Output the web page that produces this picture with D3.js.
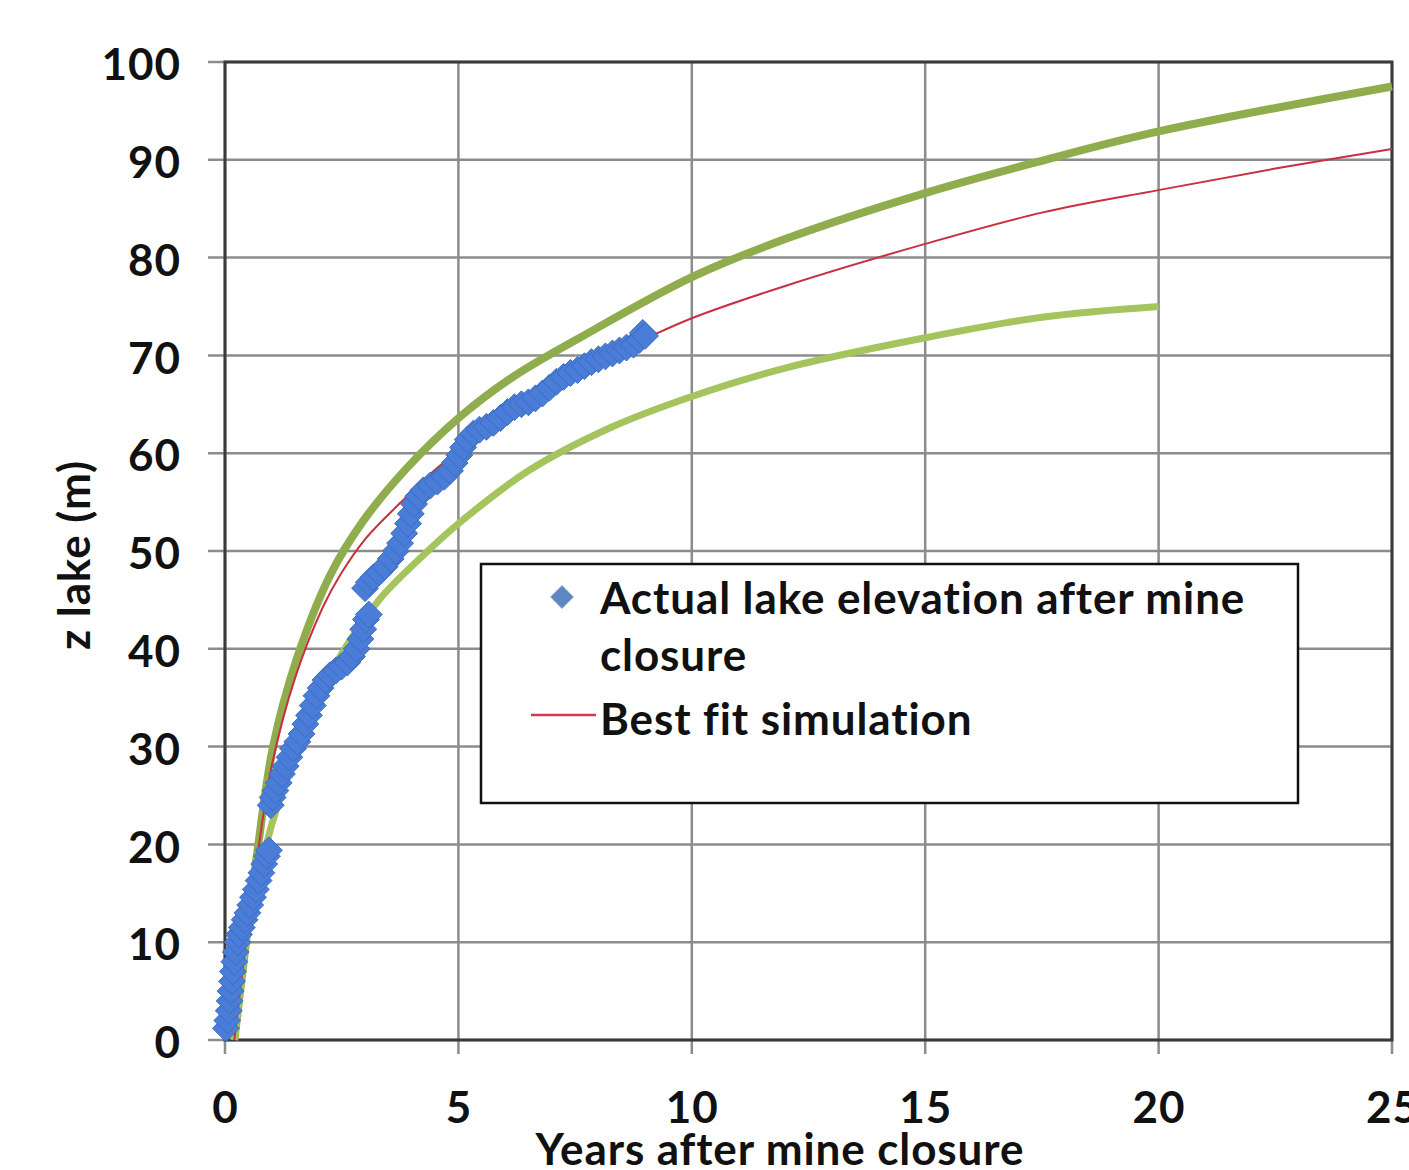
<!DOCTYPE html>
<html>
<head>
<meta charset="utf-8">
<script src="https://cdn.jsdelivr.net/npm/d3@7"></script>
<style>
  body { margin: 0; background: #fff; }
  svg { display: block; font-family: Lato, "Open Sans", sans-serif; font-weight: bold; }
</style>
</head>
<body>
<div id="chart"></div>
<script>
// observed lake level (years after closure, m)
const obsYears = [0.02,0.05,0.08,0.1,0.12,0.15,0.17,0.2,0.23,0.27,0.3,0.36,0.42,0.48,0.54,0.6,0.66,0.72,0.78,0.84,0.9,0.94,
  0.98,1.02,1.08,1.15,1.22,1.3,1.38,1.46,1.55,1.64,1.72,1.8,1.88,1.96,2.05,2.15,2.25,2.38,2.5,2.62,2.72,2.82,2.9,2.96,3.02,3.08,
  3.0,3.08,3.18,3.3,3.42,3.55,3.66,3.75,3.84,3.92,3.98,4.05,4.14,4.25,4.4,4.55,4.7,4.82,4.92,5.02,5.1,5.2,5.32,5.45,5.6,5.75,
  5.9,6.05,6.2,6.35,6.5,6.65,6.8,6.95,7.1,7.25,7.4,7.55,7.7,7.85,8.0,8.15,8.3,8.45,8.6,8.75,8.88,8.95,9.0];
const obsLevel = [1.2,2,3,4,5,6,7,8,9,10,10.8,11.5,12.3,13,13.8,14.6,15.4,16.3,17.1,18,18.8,19.4,
  24,24.8,25.5,26.3,27.2,28,28.9,29.8,30.5,31.3,32.3,33.2,34.2,35.2,36,36.8,37.3,37.8,38.2,38.6,39.2,40,41,42,43,43.5,
  46.2,46.8,47.3,47.8,48.4,49.2,50,50.8,51.8,52.8,53.8,54.8,55.6,56.2,56.7,57.1,57.6,58.2,59,59.8,60.6,61.4,62,62.4,62.7,63.1,
  63.6,64.2,64.7,65,65.2,65.6,66.1,66.7,67.3,67.8,68.2,68.5,68.9,69.3,69.6,69.9,70.2,70.5,70.8,71.1,71.6,72.3,72];

// best fit simulation
const fitYears = [0.2,0.45,0.7,1,1.5,2.1,2.5,3,3.75,4.5,5.5,6.5,7.5,8.5,9,10,12,15,17.5,20,22.5,25];
const fitLevel = [0,10,19,28,37,44.3,47.8,51.2,54.9,58.3,62,65.3,68.2,70.6,71.7,73.8,77.1,81.4,84.6,86.9,89.1,91.1];

// upper and lower envelope curves
const upperYears = [0.2,0.45,0.7,1.03,1.54,2.25,2.95,3.9,5.03,6.17,7.6,10,12,15,17.5,20,25];
const upperLevel = [0,10,19.5,30,39,47.5,53,58.5,63.7,67.8,71.8,78.0,81.9,86.6,89.9,92.9,97.5];
const lowerYears = [0.2,0.45,0.75,1.0,1.5,2,2.5,3.3,4.3,5,6.5,8.3,10,12,15,17.5,20];
const lowerLevel = [0,10,17,22,29,34.8,39.5,45,49.8,52.8,58.2,62.7,65.8,68.7,71.8,73.9,75];

const xTicks = [0,5,10,15,20,25];
const yTicks = [0,10,20,30,40,50,60,70,80,90,100];

const legendItems = ["Actual lake elevation after mine", "closure", "Best fit simulation"];

const W = 1409, H = 1170;
const plotLeft = 225, plotRight = 1392, plotTop = 62, plotBottom = 1040;

const x = d3.scaleLinear().domain([0, 25]).range([plotLeft, plotRight]);
const y = d3.scaleLinear().domain([0, 100]).range([plotBottom, plotTop]);

const svg = d3.select("#chart").append("svg")
  .attr("width", W)
  .attr("height", H);

// grid
svg.append("g").selectAll("line")
  .data(yTicks)
  .enter().append("line")
  .attr("x1", plotLeft - 17).attr("x2", plotRight)
  .attr("y1", d => y(d)).attr("y2", d => y(d))
  .attr("stroke", "#8c8c8c").attr("stroke-width", 2.5);

svg.append("g").selectAll("line")
  .data(xTicks)
  .enter().append("line")
  .attr("x1", d => x(d)).attr("x2", d => x(d))
  .attr("y1", plotTop).attr("y2", plotBottom + 14)
  .attr("stroke", "#8c8c8c").attr("stroke-width", 2.5);

// plot frame
svg.append("rect")
  .attr("x", plotLeft).attr("y", plotTop)
  .attr("width", plotRight - plotLeft).attr("height", plotBottom - plotTop)
  .attr("fill", "none").attr("stroke", "#3a3a3a").attr("stroke-width", 3);

// axes labels
const yAxis = svg.append("g")
  .attr("transform", "translate(" + (plotLeft - 44) + ",0)")
  .call(d3.axisLeft(y).tickValues(yTicks).tickSize(0).tickPadding(0));
yAxis.select(".domain").remove();
yAxis.selectAll("text").attr("font-size", 44).attr("font-family", "Lato").attr("font-weight", "bold")
  .attr("letter-spacing", 1).attr("fill", "#111").attr("dy", "0.4em");

const xAxis = svg.append("g")
  .attr("transform", "translate(0," + plotBottom + ")")
  .call(d3.axisBottom(x).tickValues(xTicks).tickSize(0).tickPadding(0));
xAxis.select(".domain").remove();
xAxis.selectAll("text").attr("font-size", 44).attr("font-family", "Lato").attr("font-weight", "bold")
  .attr("letter-spacing", 1).attr("fill", "#111").attr("y", 83).attr("dy", 0);

svg.append("text")
  .attr("x", 780).attr("y", 1165)
  .attr("text-anchor", "middle")
  .attr("font-size", 44).attr("letter-spacing", 0.9).attr("fill", "#111")
  .text("Years after mine closure");

svg.append("text")
  .attr("transform", "translate(90,555) rotate(-90)")
  .attr("text-anchor", "middle")
  .attr("font-size", 44).attr("letter-spacing", 0.9).attr("fill", "#111")
  .text("z lake (m)");

// curves
const line = d3.line()
  .x(d => x(d[0]))
  .y(d => y(d[1]))
  .curve(d3.curveCatmullRom.alpha(0.5));

svg.append("path")
  .datum(d3.zip(upperYears, upperLevel))
  .attr("d", line)
  .attr("fill", "none").attr("stroke", "#90ad4e").attr("stroke-width", 8);

svg.append("path")
  .datum(d3.zip(lowerYears, lowerLevel))
  .attr("d", line)
  .attr("fill", "none").attr("stroke", "#a6c45e").attr("stroke-width", 7);

svg.append("path")
  .datum(d3.zip(fitYears, fitLevel))
  .attr("d", line)
  .attr("fill", "none").attr("stroke", "#c8303f").attr("stroke-width", 2);

// observations
const diamond = d3.symbol().type(d3.symbolDiamond2).size(460);
svg.append("g").selectAll("path")
  .data(d3.zip(obsYears, obsLevel))
  .enter().append("path")
  .attr("d", diamond)
  .attr("transform", d => "translate(" + x(d[0]) + "," + y(d[1]) + ")")
  .attr("fill", "#4a7dd7")
  .attr("stroke", "#3d6cc0")
  .attr("stroke-width", 1);

// legend
const lg = svg.append("g");
lg.append("rect")
  .attr("x", 481).attr("y", 564)
  .attr("width", 817).attr("height", 239)
  .attr("fill", "#fff").attr("stroke", "#111").attr("stroke-width", 2.5);

lg.append("path")
  .attr("d", d3.symbol().type(d3.symbolDiamond2).size(330))
  .attr("transform", "translate(562,597)")
  .attr("fill", "#5d86c3").attr("stroke", "#8aa0c0").attr("stroke-width", 1);

lg.append("line")
  .attr("x1", 531).attr("x2", 596)
  .attr("y1", 715).attr("y2", 715)
  .attr("stroke", "#d23a52").attr("stroke-width", 2.5);

lg.selectAll("text")
  .data(legendItems)
  .enter().append("text")
  .attr("x", 600)
  .attr("y", (d, i) => [614, 671, 735][i])
  .attr("font-size", 44).attr("letter-spacing", 0.9).attr("fill", "#111")
  .text(d => d);
</script>
</body>
</html>
